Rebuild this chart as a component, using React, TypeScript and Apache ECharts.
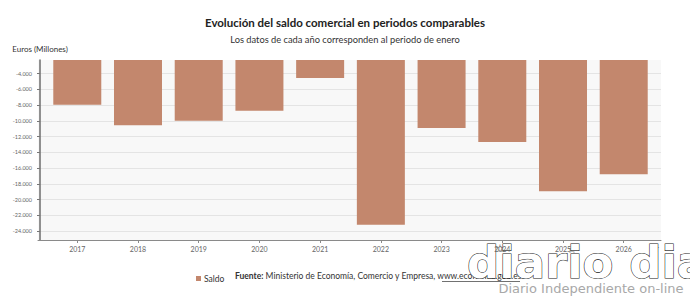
import React, { useEffect, useRef } from "react";
import * as echarts from "echarts";

// Trade balance, January of each year (million euros)
const years = ["2017", "2018", "2019", "2020", "2021", "2022", "2023", "2024", "2025", "2026"];
const saldo = [-7950, -10570, -9980, -8710, -4560, -23200, -10900, -12700, -18950, -16800];
const yTicks = [-4000, -6000, -8000, -10000, -12000, -14000, -16000, -18000, -20000, -22000, -24000];

// Horizontal position of each year on the x scale (half-slot padding on both ends)
const PAD = 0.614;
const xPos = years.map((_, i) => i + PAD);

const FONT = "Lato, 'Liberation Sans', sans-serif";

const fmtThousands = (v: number) => {
  const s = String(Math.abs(Math.round(v))).replace(/\B(?=(\d{3})+(?!\d))/g, ".");
  return (v < 0 ? "-" : "") + s;
};

export default function App() {
  const ref = useRef<HTMLDivElement>(null);

  useEffect(() => {
    if (!ref.current) return;
    const chart = echarts.init(ref.current, undefined, { renderer: "svg" });
    chart.setOption({
      animation: false,
      backgroundColor: "#ffffff",
      textStyle: { fontFamily: FONT },
      title: [
        {
          text: "Evolución del saldo comercial en periodos comparables",
          left: "center",
          top: 11,
          textStyle: { fontFamily: FONT, fontSize: 11.5, fontWeight: "bold", color: "#222" },
        },
        {
          text: "Los datos de cada año corresponden al periodo de enero",
          left: "center",
          top: 30,
          textStyle: { fontFamily: FONT, fontSize: 9.3, fontWeight: "normal", color: "#333" },
        },
      ],
      legend: {
        data: ["Saldo"],
        left: 191,
        top: 269,
        icon: "rect",
        itemWidth: 5,
        itemHeight: 5,
        itemGap: 4,
        textStyle: { fontFamily: FONT, fontSize: 8.5, color: "#333", padding: [0, 0, 0, -2] },
      },
      grid: {
        left: 38,
        right: 29,
        top: 60,
        bottom: 56,
        show: true,
        backgroundColor: "#f8f8f8",
        borderWidth: 0,
      },
      xAxis: {
        type: "value",
        min: -0.033,
        max: 9 + 2 * PAD,
        splitLine: { show: false },
        axisLine: { show: true, onZero: false, lineStyle: { color: "#8a8a8a", width: 1 } },
        axisTick: { show: true, customValues: xPos, length: 3, lineStyle: { color: "#8a8a8a" } },
        axisLabel: {
          customValues: xPos,
          formatter: (v: number) => years[Math.round(v - PAD)] ?? "",
          fontFamily: FONT,
          fontSize: 7,
          color: "#666",
          margin: 5,
        },
      },
      yAxis: {
        type: "value",
        min: -25140,
        max: -2270,
        name: "Euros (Millones)",
        nameLocation: "end",
        nameGap: 7,
        nameTextStyle: { fontFamily: FONT, fontSize: 8, color: "#333", align: "center" },
        axisLine: { show: true, onZero: true, lineStyle: { color: "#6e6e6e", width: 1.5 } },
        axisTick: { show: true, customValues: yTicks, length: 3, lineStyle: { color: "#777" } },
        axisLabel: {
          customValues: yTicks,
          formatter: (v: number) => fmtThousands(v),
          fontFamily: FONT,
          fontSize: 5.5,
          color: "#666",
          margin: 6,
        },
        splitLine: { show: true, lineStyle: { color: "#e4e4e4", width: 1 } },
      },
      series: [
        {
          name: "Saldo",
          type: "bar",
          barWidth: 48,
          clip: true,
          itemStyle: { color: "#c3876d" },
          data: saldo.map((v, i) => [xPos[i], v]),
        },
      ],
      graphic: [
        {
          type: "text",
          left: 235,
          top: 271,
          style: {
            text: "{b|Fuente:} Ministerio de Economía, Comercio y Empresa, www.economia.gob.es",
            fontFamily: FONT,
            fontSize: 8.5,
            fill: "#333",
            rich: { b: { fontFamily: FONT, fontSize: 8.5, fontWeight: "bold", fill: "#333" } },
          },
        },
        {
          type: "line",
          shape: { x1: 442, y1: 281.5, x2: 520, y2: 281.5 },
          style: { stroke: "#333", lineWidth: 0.7 },
        },
        // site logo overlay
        {
          type: "group",
          z: 100,
          children: [
            { type: "text", x: 500, y: 248, style: { text: "☆", fontSize: 11, fill: "#666", align: "center", verticalAlign: "middle" } },
            { type: "text", x: 572, y: 249, style: { text: "☆", fontSize: 11, fill: "#666", align: "center", verticalAlign: "middle" } },
            { type: "text", x: 655, y: 248, style: { text: "☆", fontSize: 11, fill: "#666", align: "center", verticalAlign: "middle" } },
            {
              type: "text",
              x: 467,
              y: 262,
              style: {
                text: "diario dia",
                fontFamily: "'DejaVu Sans', sans-serif",
                fontWeight: "bold",
                fontSize: 45,
                fill: "#ffffff",
                stroke: "#222",
                lineWidth: 1.1,
                verticalAlign: "middle",
              },
            },
            {
              type: "text",
              x: 591,
              y: 288,
              style: {
                text: "Diario Independiente on-line",
                fontFamily: "'DejaVu Sans', sans-serif",
                fontSize: 13,
                fill: "#a8a8a8",
                align: "center",
                verticalAlign: "middle",
              },
            },
          ],
        },
      ],
    });
    return () => chart.dispose();
  }, []);

  return (
    <div
      ref={ref}
      style={{ position: "fixed", left: 0, top: 0, width: 690, height: 296 }}
    />
  );
}
